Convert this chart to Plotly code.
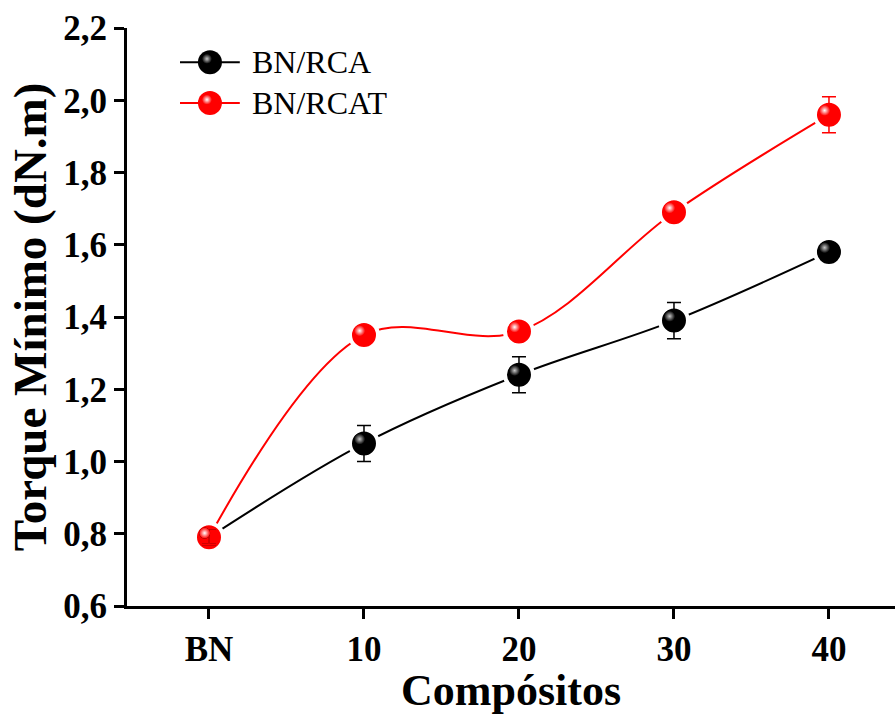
import plotly.graph_objects as go

# Composite labels and minimum torque values (dN.m)
categories = ["BN", "10", "20", "30", "40"]
rca_values = [0.79, 1.05, 1.24, 1.39, 1.58]
rca_errors = [0.02, 0.05, 0.05, 0.05, 0.01]
rcat_values = [0.79, 1.35, 1.36, 1.69, 1.96]
rcat_errors = [0.02, 0.01, 0.01, 0.01, 0.05]

series = [
    ("BN/RCA", rca_values, rca_errors, "#000000", "#c8c8c8"),
    ("BN/RCAT", rcat_values, rcat_errors, "#ff0000", "#ffffff"),
]

xpos = list(range(len(categories)))
x_range = [-0.529, 4.426]
y_range = [0.6, 2.2]
# small shift of the highlight axes so the glint sits up-left on each ball
dx = 0.028
dy = 0.012

BALL = 28
GLINT = 11

fig = go.Figure()

for name, vals, errs, color, glint in series:
    fig.add_trace(go.Scatter(
        x=xpos, y=vals, name=name, mode="lines+markers", showlegend=False,
        line=dict(color=color, width=2, shape="spline", smoothing=1.0),
        marker=dict(size=BALL, color=color, line=dict(color="white", width=4)),
    ))

for name, vals, errs, color, glint in series:
    fig.add_trace(go.Scatter(
        x=xpos, y=vals, mode="markers", showlegend=False, hoverinfo="skip",
        marker=dict(size=GLINT, color=color,
                    gradient=dict(type="radial", color=glint)),
        xaxis="x2", yaxis="y2",
    ))

for name, vals, errs, color, glint in series:
    fig.add_trace(go.Scatter(
        x=xpos, y=vals, mode="markers", showlegend=False, hoverinfo="skip",
        marker=dict(size=1, color="rgba(0,0,0,0)"),
        error_y=dict(type="data", array=errs, visible=True,
                     color=color, thickness=1.5, width=7),
    ))

# legend drawn on its own small axis pair: line sample, ball and glint
legend_rows = [0.74, 0.26]
for (name, vals, errs, color, glint), row in zip(series, legend_rows):
    fig.add_trace(go.Scatter(
        x=[0, 1], y=[row, row], mode="lines", showlegend=False, hoverinfo="skip",
        line=dict(color=color, width=2), xaxis="x3", yaxis="y3",
    ))
    fig.add_trace(go.Scatter(
        x=[0.5], y=[row], mode="markers", showlegend=False, hoverinfo="skip",
        marker=dict(size=24, color=color), xaxis="x3", yaxis="y3",
    ))
    fig.add_trace(go.Scatter(
        x=[0.45], y=[row + 0.04], mode="markers", showlegend=False, hoverinfo="skip",
        marker=dict(size=10, color=color, gradient=dict(type="radial", color=glint)),
        xaxis="x3", yaxis="y3",
    ))
    fig.add_annotation(
        x=0.160, y=row, xref="paper", yref="y3", text=name, showarrow=False,
        xanchor="left", yanchor="middle",
        font=dict(family="Liberation Serif", size=32, color="black"),
    )

tick_font = dict(family="Liberation Serif", size=35, color="black", weight="bold")
xtitle_font = dict(family="Liberation Serif", size=44, color="black", weight="bold")
ytitle_font = dict(family="Liberation Serif", size=47, color="black", weight="bold")

fig.update_layout(
    width=895, height=715,
    margin=dict(l=127, r=0, t=28, b=109),
    paper_bgcolor="white", plot_bgcolor="white",
    font=dict(family="Liberation Serif", color="black"),
    showlegend=False,
    xaxis=dict(
        range=x_range, tickmode="array", tickvals=xpos, ticktext=categories,
        showgrid=False, zeroline=False, showline=True, linecolor="black",
        linewidth=3, ticks="outside", ticklen=10, tickwidth=3,
        tickcolor="black", tickfont=tick_font,
        title=dict(text="Compósitos", font=xtitle_font, standoff=14),
    ),
    yaxis=dict(
        range=y_range, tickmode="array",
        tickvals=[0.6, 0.8, 1.0, 1.2, 1.4, 1.6, 1.8, 2.0, 2.2],
        ticktext=["0,6", "0,8", "1,0", "1,2", "1,4", "1,6", "1,8", "2,0", "2,2"],
        showgrid=False, zeroline=False, showline=True, linecolor="black",
        linewidth=3, ticks="outside", ticklen=10, tickwidth=3,
        tickcolor="black", tickfont=tick_font,
        title=dict(text="Torque Mínimo (dN.m)", font=ytitle_font, standoff=2),
    ),
    xaxis2=dict(overlaying="x", range=[x_range[0] + dx, x_range[1] + dx],
                visible=False, showgrid=False, zeroline=False),
    yaxis2=dict(overlaying="y", range=[y_range[0] - dy, y_range[1] - dy],
                visible=False, showgrid=False, zeroline=False),
    xaxis3=dict(domain=[0.069, 0.147], range=[0, 1], anchor="y3",
                visible=False, showgrid=False, zeroline=False),
    yaxis3=dict(domain=[0.832, 0.979], range=[0, 1], anchor="x3",
                visible=False, showgrid=False, zeroline=False),
)

fig.write_html("out.html")
